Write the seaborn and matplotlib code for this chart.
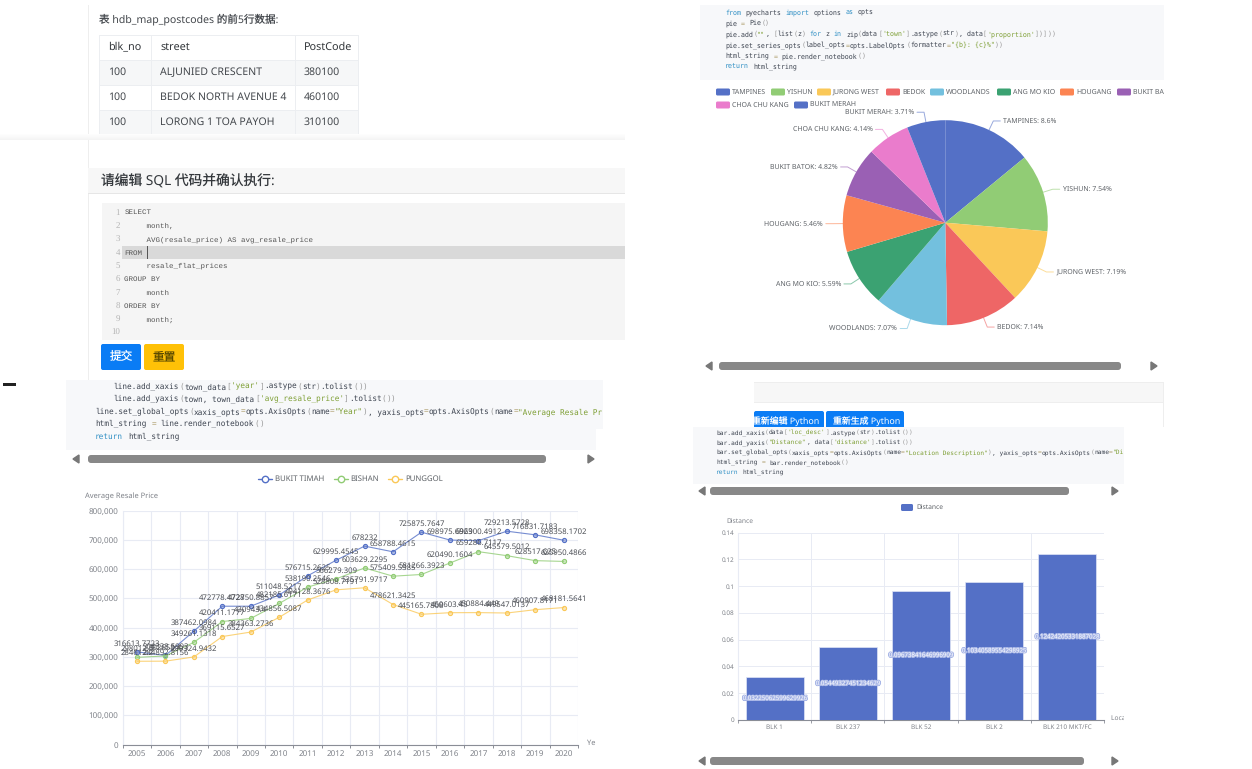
"""
Collage of notebook screenshots: table, SQL editor, line, pie and bar charts.
"""
import re
import matplotlib
matplotlib.use("Agg")
import matplotlib.pyplot as plt
import matplotlib.patheffects as pe
from matplotlib.patches import FancyBboxPatch, Rectangle
import numpy as np
import pandas as pd
import seaborn as sns

W, H = 1252, 769

sns.set_style("white")
plt.rcParams["font.family"] = ["Noto Sans", "Noto Sans CJK SC", "DejaVu Sans"]
plt.rcParams["text.hinting"] = "no_hinting"

# table
table_cols = ["blk_no", "street", "PostCode"]
table_blk = ["100", "100", "100"]
table_street = ["ALJUNIED CRESCENT", "BEDOK NORTH AVENUE 4", "LORONG 1 TOA PAYOH"]
table_post = ["380100", "460100", "310100"]

# sql editor
sql_lines = ["SELECT", "     month,", "     AVG(resale_price) AS avg_resale_price", "FROM",
             "     resale_flat_prices", "GROUP BY", "     month", "ORDER BY", "     month;", ""]

# line chart
years = [str(y) for y in range(2005, 2021)]
timah = [316613.7723, 304338.5993, 387462.0984, 472778.4728, 472750.8857, 511048.5217,
         576715.2625, 629995.4545, 678232, 658788.4615, 725875.7647, 698975.6923,
         696900.4912, 729213.5728, 716831.7183, 698358.1702]
bishan = [298012.5, 302658.4, 349261.1318, 420411.1777, 430943.4, 482185.6171,
          538190.2546, 566279.309, 603629.2295, 575409.5385, 581266.3923, 620490.1604,
          659286.7117, 645579.5012, 628517.625, 625950.4866]
punggol = [284612.2, 284892.8156, 299324.9432, 369115.6527, 384363.2736, 434856.5087,
           494128.3676, 528808.7191, 535791.9717, 478621.3425, 445165.7808, 450603.45,
           450884.449, 449547.0137, 460907.8171, 468181.5641]
line_towns = ["BUKIT TIMAH", "BISHAN", "PUNGGOL"]
line_colors = ["#5470c6", "#91cc75", "#fac858"]

# pie chart
pie_towns = ["TAMPINES", "YISHUN", "JURONG WEST", "BEDOK", "WOODLANDS", "ANG MO KIO",
             "HOUGANG", "BUKIT BATOK", "CHOA CHU KANG", "BUKIT MERAH"]
pie_share = [8.6, 7.54, 7.19, 7.14, 7.07, 5.59, 5.46, 4.82, 4.14, 3.71]
pie_colors = ["#5470c6", "#91cc75", "#fac858", "#ee6666", "#73c0de",
              "#3ba272", "#fc8452", "#9a60b4", "#ea7ccc", "#5470c6"]

# bar chart
blocks = ["BLK 1", "BLK 237", "BLK 52", "BLK 2", "BLK 210 MKT/FC"]
distance = [0.03225062599629926, 0.05449327451234629, 0.09673841646996909,
            0.10340589554298925, 0.12424205331887028]

code_line = [
    "    line.add_xaxis(town_data['year'].astype(str).tolist())",
    "    line.add_yaxis(town, town_data['avg_resale_price'].tolist())",
    "line.set_global_opts(xaxis_opts=opts.AxisOpts(name=\"Year\"), yaxis_opts=opts.AxisOpts(name=\"Average Resale Pr",
    "html_string = line.render_notebook()",
    "return html_string",
]
code_pie = [
    "from pyecharts import options as opts",
    "pie = Pie()",
    "pie.add(\"\", [list(z) for z in zip(data['town'].astype(str), data['proportion'])]))",
    "pie.set_series_opts(label_opts=opts.LabelOpts(formatter=\"{b}: {c}%\"))",
    "html_string = pie.render_notebook()",
    "return html_string",
]
code_bar = [
    "bar.add_xaxis(data['loc_desc'].astype(str).tolist())",
    "bar.add_yaxis(\"Distance\", data['distance'].tolist())",
    "bar.set_global_opts(xaxis_opts=opts.AxisOpts(name=\"Location Description\"), yaxis_opts=opts.AxisOpts(name=\"Di",
    "html_string = bar.render_notebook()",
    "return html_string",
]

TXT = "#5f6368"
AXT = "#7f8289"
GRID = "#e8ebf4"
AXIS = "#8a8d96"

fig = plt.figure(figsize=(W / 100, H / 100), dpi=100)


def px_axes(x0, y0, x1, y1, **kw):
    """Axes placed by pixel box, y measured from the top of the image."""
    return fig.add_axes([x0 / W, 1 - y1 / H, (x1 - x0) / W, (y1 - y0) / H], **kw)


bg = px_axes(0, 0, W, H, zorder=0)
bg.set_xlim(0, W)
bg.set_ylim(H, 0)
bg.axis("off")


def box(x0, y0, x1, y1, color, ec="none", lw=0, z=1):
    bg.add_patch(Rectangle((x0, y0), x1 - x0, y1 - y0, fc=color, ec=ec, lw=lw, zorder=z))


def rounded(x0, y0, x1, y1, color, r=2, z=2):
    bg.add_patch(FancyBboxPatch((x0 + r, y0 + r), x1 - x0 - 2 * r, y1 - y0 - 2 * r,
                                boxstyle=f"round,pad={r}", fc=color, ec="none", zorder=z))


def label(x, y, s, size=5.2, color=TXT, ha="left", z=6, **kw):
    return bg.text(x, y, s, fontsize=size, color=color, ha=ha, va="center", zorder=z, **kw)


def clipped(t, x0, x1):
    """Cut a text at a panel edge."""
    t.set_clip_on(True)
    t.set_clip_path(Rectangle((x0, 0), x1 - x0, H, transform=bg.transData))


def code(x, y, line, charw):
    """One line of highlighted python, token by token on a fixed character grid."""
    size = charw / 0.602 / 1.389
    pos = 0
    for tok in re.split(r"(\"[^\"]*\"?|'[^']*'|\b(?:from|import|as|for|in|return)\b|=|[()\[\]])", line):
        if not tok:
            continue
        if tok[0] in "\"'":
            col = "#7e9f35"
        elif tok in ("from", "import", "as", "for", "in", "return"):
            col = "#2f8fc4"
        elif tok == "=":
            col = "#b0a070"
        elif tok in "()[]":
            col = "#9a9a9a"
        else:
            col = "#3d4450"
        if tok.strip():
            lead = len(tok) - len(tok.lstrip())
            bg.text(x + (pos + lead) * charw, y + size * 0.5, tok.strip(), fontsize=size, color=col,
                    family="DejaVu Sans Mono", ha="left", va="baseline", zorder=6)
        pos += len(tok)


def scrollbar(y, arrow_l, thumb0, thumb1, arrow_r):
    bg.add_patch(FancyBboxPatch((thumb0 + 3, y - 1), thumb1 - thumb0 - 6, 2, boxstyle="round,pad=3",
                                fc="#888888", ec="none", zorder=4))
    bg.fill([arrow_l - 3, arrow_l + 3, arrow_l + 3], [y, y - 4, y + 4], color="#777777", zorder=4)
    bg.fill([arrow_r + 3, arrow_r - 3, arrow_r - 3], [y, y - 4, y + 4], color="#777777", zorder=4)


# --- left column, table
box(88, 5, 89, 140, "#eeeeee")
label(99, 19, "表 hdb_map_postcodes 的前5行数据:", size=7.6, color="#44484d")
col_x = [99, 151, 295, 358]
row_y = [35, 60, 85, 110, 135, 140]
box(99, 60, 358, 85, "#f6f7f8")
box(99, 110, 358, 135, "#f6f7f8")
for y in row_y[:-1]:
    box(99, y - 0.5, 358, y + 0.5, "#eceef1", z=2)
for x in col_x:
    box(x - 0.5, 35, x + 0.5, 140, "#eceef1", z=2)
for x, col in zip(col_x, table_cols):
    label(x + 9, 47, col, size=7.8, color="#33373b", weight="medium")
for i, row in enumerate(zip(table_blk, table_street, table_post)):
    for x, val in zip(col_x, row):
        label(x + 9, 72 + 25 * i, val, size=7.6, color="#44484d")

# shadow of the panel pasted below
for i in range(6):
    box(0, 134 + i, 625, 135 + i, str(1 - 0.007 * (i + 1)), z=3)
box(0, 140, 625, 380, "white", z=3)

# --- left column, sql editor
box(88, 140, 89, 380, "#eeeeee", z=4)
box(88, 168, 625, 194, "#f7f7f7", z=4)
box(88, 193, 625, 194, "#e6e6e6", z=4)
label(101, 182, "请编辑 SQL 代码并确认执行:", size=9.9, color="#33373b")
box(102, 203, 625, 340, "#f5f5f5", z=4)
box(122, 246, 625, 259, "#d9d9d9", z=4)
box(147, 246, 147.6, 259, "#555555", z=5)
for i, txt in enumerate(sql_lines):
    y = 212.5 + i * 13.4
    label(120, y, str(i + 1), size=6.4, color="#b5b5b5", ha="right", family="Liberation Serif")
    label(124.5, y, txt.replace(" ", "\u00a0"), size=5.4, color="#555555", family="Liberation Mono")
rounded(101, 344, 141, 370, "#0a7cf5", z=5)
rounded(144, 344, 184, 370, "#ffc107", z=5)
label(121, 357, "提交", size=8.4, color="white", ha="center")
label(164, 357, "重置", size=8.4, color="#5a4a00", ha="center")
box(3, 383, 16, 386, "#222222")

# --- line chart code
box(66, 380, 603, 429, "#f7f8fa", z=4)
box(66, 429, 596, 450, "#f7f8fa", z=4)
for i, txt in enumerate(code_line):
    code(95, 386 + i * 12.5, txt, 4.7)
scrollbar(459, 76, 88, 546, 591)

# --- line chart
long_df = pd.DataFrame({
    "year": years * 3,
    "price": timah + bishan + punggol,
    "town": np.repeat(line_towns, len(years)),
})
ax = px_axes(122.7, 510.5, 578, 744.5, zorder=2)
sns.lineplot(data=long_df, x="year", y="price", hue="town", hue_order=line_towns,
             palette=line_colors, marker="o", markersize=3, markeredgewidth=0.8,
             linewidth=0.8, legend=False, ax=ax, estimator=None, sort=False, zorder=3)
for line, col in zip(ax.get_lines(), line_colors):
    line.set_markeredgecolor(col)
    line.set_markerfacecolor(matplotlib.colors.to_rgba(col, 0.45))
    line.set_color(matplotlib.colors.to_rgba(col, 0.8))
ax.set_xlim(-0.5, len(years) - 0.5)
ax.set_ylim(0, 800000)
ax.set_xlabel("")
ax.set_ylabel("")
ax.set_yticks(range(0, 800001, 100000))
ax.set_yticklabels([f"{v:,}" for v in range(0, 800001, 100000)], fontsize=5.8, color=AXT)
ax.set_xticks(range(len(years)))
ax.set_xticklabels(years, fontsize=5.8, color=AXT)
ax.set_xticks(np.arange(len(years) + 1) - 0.5, minor=True)
ax.grid(True, axis="y", color=GRID, lw=0.8)
ax.grid(True, axis="x", which="minor", color=GRID, lw=0.8)
ax.grid(False, axis="x", which="major")
ax.tick_params(axis="x", which="major", length=0, pad=3.5)
ax.tick_params(axis="x", which="minor", length=2.5, width=0.7, color=AXIS, bottom=True)
ax.tick_params(axis="y", length=0, pad=3)
for side in ("top", "right"):
    ax.spines[side].set_visible(False)
ax.spines["left"].set_color(GRID)
ax.spines["bottom"].set_color(AXIS)
ax.spines["bottom"].set_linewidth(0.8)
for series in (timah, bishan, punggol):
    for i, v in enumerate(series):
        ax.annotate(f"{v:.4f}".rstrip("0").rstrip("."), (i, v), xytext=(0, 3.2),
                    textcoords="offset points", ha="center", va="bottom",
                    fontsize=5.6, color="#4c4f55", zorder=6, annotation_clip=False)

label(85, 496, "Average Resale Price", size=5.4, color=AXT)
label(587, 743, "Ye", size=5.4, color=AXT)
for x, x_txt, name, col in zip([265, 341, 395], [275, 350, 405], line_towns, line_colors):
    bg.plot([x - 7, x + 7], [479, 479], color=col, lw=1, zorder=5)
    bg.plot([x], [479], "o", ms=4.6, mfc="white", mec=col, mew=1, zorder=6)
    label(x_txt, 479, name, size=5.6, color=TXT)

# --- pie code and legend
box(700, 5, 1164, 80, "#f7f8fa")
for i, txt in enumerate(code_pie):
    code(725, 12 + i * 10.9, txt, 4.03)
legend_x = [716, 771, 817, 886, 930, 997, 1060, 1117, 716, 794]
legend_y = [92] * 8 + [105] * 2
for x, y, name, col in zip(legend_x, legend_y, pie_towns, pie_colors):
    rounded(x, y - 3.5, x + 14, y + 3.5, col, r=1.5)
    clipped(label(x + 16, y, name, size=5.0), 700, 1164)

# --- pie
cx, cy, rad = 945.3, 222.7, 102.5
pax = px_axes(cx - rad, cy - rad, cx + rad, cy + rad, zorder=2)
wedges, _ = pax.pie(pie_share, colors=pie_colors, startangle=90, counterclock=False, radius=1,
                    wedgeprops={"linewidth": 0})
pax.set_xlim(-1, 1)
pax.set_ylim(-1, 1)
for wedge, name, share, col in zip(wedges, pie_towns, pie_share, pie_colors):
    ang = np.deg2rad((wedge.theta1 + wedge.theta2) / 2)
    ux, uy = np.cos(ang), np.sin(ang)
    x0, y0 = cx + rad * ux, cy - rad * uy
    x1, y1 = cx + (rad + 10) * ux, cy - (rad + 10) * uy
    side = 1 if ux >= 0 else -1
    x2 = x1 + side * 7
    bg.plot([x0, x1, x2], [y0, y1, y1], color=col, lw=0.7, alpha=0.6, zorder=1.5)
    label(x2 + side * 3, y1, f"{name}: {share}%", size=5.0, color=TXT,
          ha="left" if side > 0 else "right")
scrollbar(366, 709, 719, 1121, 1154)

# --- bar panel header and code
box(754, 382, 1164, 402, "#f7f7f7")
box(754, 382, 1164, 383, "#eeeeee")
box(754, 402, 1164, 403, "#eeeeee")
box(1163, 382, 1164, 427, "#eeeeee")
rounded(754, 411, 824, 432, "#0a7cf5")
rounded(826, 411, 904, 432, "#0a7cf5")
clipped(label(752, 421, "重新编辑 Python", size=6.4, color="white"), 754, 824)
label(833, 421, "重新生成 Python", size=6.4, color="white")
box(693, 427, 1124, 484, "#f7f8fa", z=4)
for i, txt in enumerate(code_bar):
    code(716, 432 + i * 10, txt, 3.78)
scrollbar(491, 702, 710, 1069, 1115)

# --- bar chart
bax = px_axes(738.3, 532.7, 1103.7, 720, zorder=2)
sns.barplot(x=blocks, y=distance, color="#5470c6", saturation=1, width=0.8, ax=bax, zorder=3,
            edgecolor="#dfe4f6", linewidth=0.5)
bax.set_xlim(-0.5, len(blocks) - 0.5)
bax.set_ylim(0, 0.14)
yt = np.arange(0, 0.141, 0.02)
bax.set_yticks(yt)
bax.set_yticklabels(["0", "0.02", "0.04", "0.06", "0.08", "0.1", "0.12", "0.14"], fontsize=4.6, color=AXT)
bax.set_xticks(range(len(blocks)))
bax.set_xticklabels(blocks, fontsize=4.6, color=AXT)
bax.set_xticks(np.arange(len(blocks) + 1) - 0.5, minor=True)
bax.grid(True, axis="y", color=GRID, lw=0.7)
bax.grid(True, axis="x", which="minor", color=GRID, lw=0.7)
bax.grid(False, axis="x", which="major")
bax.tick_params(axis="x", which="major", length=0, pad=3)
bax.tick_params(axis="x", which="minor", length=2, width=0.6, color=AXIS, bottom=True)
bax.tick_params(axis="y", length=0, pad=2.5)
for side in ("top", "right"):
    bax.spines[side].set_visible(False)
bax.spines["left"].set_color(GRID)
bax.spines["bottom"].set_color(AXIS)
bax.spines["bottom"].set_linewidth(0.8)
for i, v in enumerate(distance):
    bax.text(i, v / 2, repr(v), fontsize=4.4, color="white", ha="center", va="center", zorder=6,
             clip_on=False, path_effects=[pe.withStroke(linewidth=1.4, foreground="#a8b6e6")])
label(726, 521, "Distance", size=4.8, color=AXT)
clipped(label(1111, 719, "Location Description", size=4.8, color=AXT), 1100, 1124)
rounded(901, 504, 913, 511, "#5470c6", r=1.5)
label(916, 507.5, "Distance", size=4.8, color=TXT)
scrollbar(761, 702, 710, 1084, 1115)

fig.savefig("out.png", dpi=100)
plt.close(fig)
